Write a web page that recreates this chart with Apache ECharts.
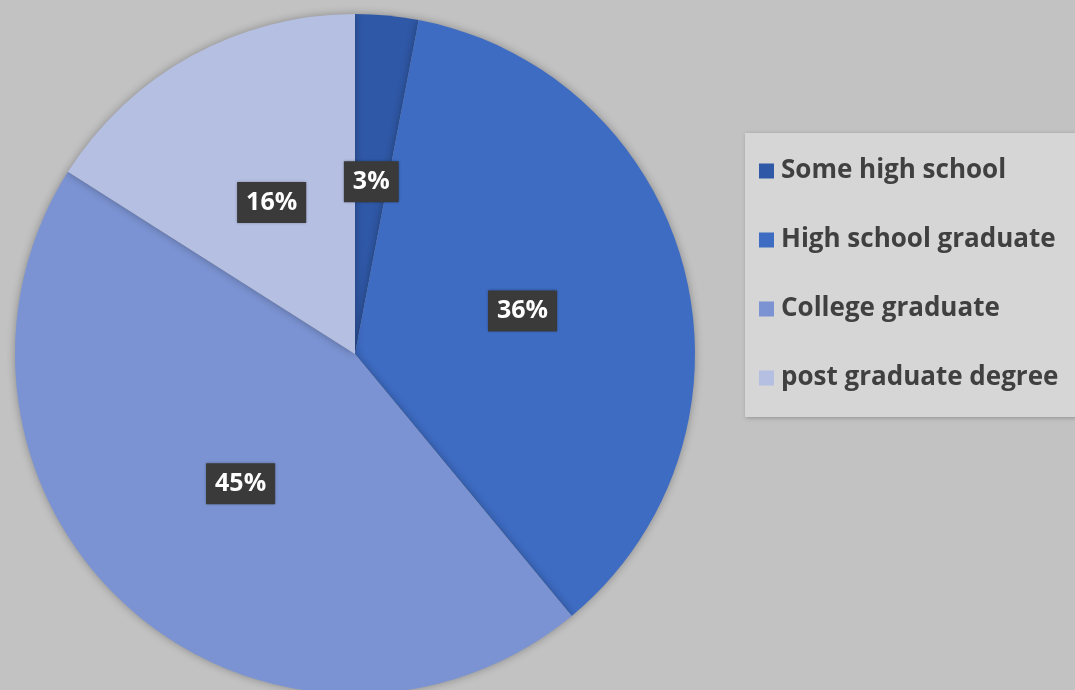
<!DOCTYPE html>
<html>
<head>
<meta charset="utf-8">
<script src="https://cdn.jsdelivr.net/npm/echarts@6/dist/echarts.min.js"></script>
<style>
html,body{margin:0;padding:0;background:#c2c2c2;}
#chart{width:1075px;height:690px;}
</style>
</head>
<body>
<div id="chart"></div>
<script>
const categories = ['Some high school', 'High school graduate', 'College graduate', 'post graduate degree'];
const values = [3, 36, 45, 16];
const colors = ['#2f58a6', '#3e6cc3', '#7b93d2', '#b5bfe2'];

const chart = echarts.init(document.getElementById('chart'));
chart.setOption({
  backgroundColor: '#c2c2c2',
  animation: false,
  color: colors,
  legend: {
    orient: 'vertical',
    left: 745,
    top: 133,
    padding: [25, 40, 26, 14],
    itemGap: 43,
    itemWidth: 15,
    itemHeight: 15,
    icon: 'rect',
    backgroundColor: '#d6d6d6',
    shadowColor: 'rgba(0,0,0,0.25)',
    shadowBlur: 4,
    shadowOffsetX: 1,
    shadowOffsetY: 1,
    textStyle: {
      fontFamily: 'Open Sans',
      fontWeight: 'bold',
      fontSize: 26,
      color: '#404040',
      padding: [0, 0, 0, 2]
    },
    data: categories
  },
  series: [{
    type: 'pie',
    center: [355, 354],
    radius: 340,
    startAngle: 90,
    clockwise: true,
    data: categories.map((c, i) => ({ name: c, value: values[i] })),
    itemStyle: {
      shadowColor: 'rgba(0,0,0,0.3)',
      shadowBlur: 8
    },
    label: {
      show: true,
      position: 'inside',
      formatter: p => p.value + '%',
      fontFamily: 'Open Sans',
      fontWeight: 'bold',
      fontSize: 25,
      color: '#ffffff',
      backgroundColor: '#3a3a3a',
      padding: [9, 9, 7, 9],
      shadowColor: 'rgba(0,0,0,0.4)',
      shadowBlur: 3
    },
    labelLine: { show: false },
    emphasis: { disabled: true }
  }]
});
</script>
</body>
</html>
